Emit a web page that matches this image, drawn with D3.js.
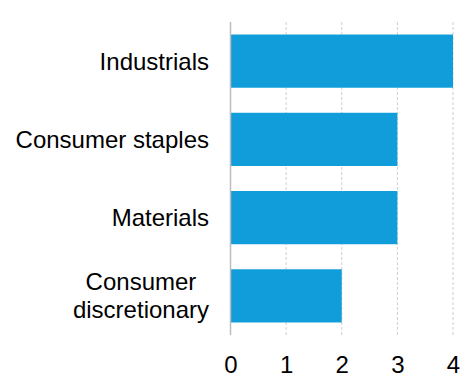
<!DOCTYPE html>
<html><head><meta charset="utf-8">
<script src="https://cdn.jsdelivr.net/npm/d3@7"></script>
<style>body{margin:0;background:#fff}</style>
</head><body>
<svg id="c" width="469" height="385"></svg>
<script>
const categories = [["Industrials"], ["Consumer staples"], ["Materials"], ["Consumer", "discretionary"]];
const values = [4, 3, 3, 2];
const tickValues = [0, 1, 2, 3, 4];

const svg = d3.select("#c");
const x = d3.scaleLinear().domain([0, 4]).range([230.5, 453]);
const y = d3.scaleBand().domain(d3.range(categories.length)).range([22, 335]).paddingInner(0.32).paddingOuter(0.16);
const font = "Liberation Sans, Arial, sans-serif";

// gridlines
svg.selectAll("line.grid").data(tickValues.filter(d => d > 0)).enter().append("line")
  .attr("x1", d => x(d)).attr("x2", d => x(d)).attr("y1", 22).attr("y2", 335)
  .attr("stroke", "#cfcfcf").attr("stroke-width", 1).attr("stroke-dasharray", "3,2");

// bars
svg.selectAll("rect.bar").data(values).enter().append("rect")
  .attr("x", x(0)).attr("y", (d, i) => y(i)).attr("width", d => x(d) - x(0)).attr("height", y.bandwidth())
  .attr("fill", "#109dd9");

// zero line
svg.append("line").attr("x1", x(0)).attr("x2", x(0)).attr("y1", 22).attr("y2", 335)
  .attr("stroke", "#bdbdbd").attr("stroke-width", 1.5);

// x axis
const xAxis = svg.append("g").attr("transform", "translate(0,356)")
  .call(d3.axisBottom(x).tickValues(tickValues).tickSize(0).tickPadding(0).tickFormat(d3.format("d")));
xAxis.select(".domain").remove();
xAxis.selectAll("text").attr("font-family", font).attr("font-size", 24).attr("fill", "#000").attr("dy", "0.71em");

// category labels (block right-aligned, lines centered within block)
categories.forEach((lines, i) => {
  const cy = y(i) + y.bandwidth() / 2;
  const t = svg.append("text").attr("text-anchor", "middle").attr("font-family", font).attr("font-size", 24).attr("fill", "#000");
  const n = lines.length;
  const spans = lines.map((ln, j) =>
    t.append("tspan").attr("y", cy + (j - (n - 1) / 2) * 28).attr("dy", "0.35em").text(ln));
  const maxW = d3.max(spans, s => s.node().getComputedTextLength());
  spans.forEach(s => s.attr("x", 209 - maxW / 2));
});
</script>
</body></html>
